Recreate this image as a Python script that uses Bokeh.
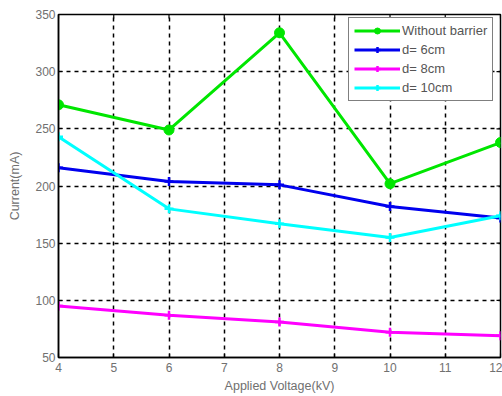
import math
from bokeh.plotting import figure
from bokeh.models import Range1d, FixedTicker, Legend, LegendItem
from bokeh.embed import file_html
from bokeh.resources import INLINE

voltage = [4, 6, 8, 10, 12]
without_barrier = [271, 249, 334, 202, 238]
d_6cm = [216, 204, 201, 182, 172]
d_8cm = [95, 87, 81, 72, 69]
d_10cm = [243, 180, 167, 155, 174]

x_ticks = [4, 5, 6, 7, 8, 9, 10, 11, 12]
y_ticks = [50, 100, 150, 200, 250, 300, 350]

FONT = "Liberation Sans"
TXT = "#707070"

p = figure(width=502, height=396, output_backend="svg", toolbar_location=None,
           x_range=Range1d(x_ticks[0], x_ticks[-1]), y_range=Range1d(y_ticks[0], y_ticks[-1]),
           min_border_left=58, min_border_right=2, min_border_top=14, min_border_bottom=39)

p.outline_line_color = "black"
p.outline_line_width = 1.5
p.outline_line_alpha = 1

def style_axis(ax, ticks):
    ax.ticker = FixedTicker(ticks=ticks)
    ax.axis_line_color = "black"
    ax.axis_line_width = 1.5
    ax.major_tick_in = 4
    ax.major_tick_out = 0
    ax.minor_tick_in = 0
    ax.minor_tick_out = 0
    ax.major_tick_line_color = "black"
    ax.major_tick_line_width = 1.2
    ax.major_label_text_font = FONT
    ax.major_label_text_font_size = "12px"
    ax.major_label_text_color = TXT
    ax.axis_label_text_font = FONT
    ax.axis_label_text_font_size = "12.5px"
    ax.axis_label_text_color = TXT
    ax.axis_label_text_font_style = "normal"

style_axis(p.xaxis[0], x_ticks)
style_axis(p.yaxis[0], y_ticks)
p.xaxis.axis_label = "Applied Voltage(kV)"
p.yaxis.axis_label = "Current(mA)"
p.xaxis.major_label_standoff = 5
p.yaxis.major_label_standoff = 3
p.xaxis.axis_label_standoff = 4
p.yaxis.axis_label_standoff = 10

for g in (p.xgrid[0], p.ygrid[0]):
    g.grid_line_color = "black"
    g.grid_line_dash = "4 4"
    g.grid_line_width = 1.5
    g.grid_line_alpha = 1

# inward tick marks on the top and right edges of the box (Matlab style)
p.scatter(x_ticks, [y_ticks[-1]] * len(x_ticks), marker="dash", angle=math.pi / 2,
          size=8, line_color="black", line_width=1.2)
p.scatter([x_ticks[-1]] * len(y_ticks), y_ticks, marker="dash",
          size=8, line_color="black", line_width=1.2)

lw = 3
r1 = p.line(voltage, without_barrier, line_color="#00e600", line_width=lw)
m1 = p.scatter(voltage, without_barrier, marker="circle", size=10, fill_color="#00e600",
               line_color="#00e600")
r2 = p.line(voltage, d_6cm, line_color="#0000ee", line_width=lw)
m2 = p.scatter(voltage, d_6cm, marker="cross", size=9, line_color="#0000ee", line_width=2.5)
r3 = p.line(voltage, d_8cm, line_color="#ff00ff", line_width=lw)
m3 = p.scatter(voltage, d_8cm, marker="cross", size=9, line_color="#ff00ff", line_width=2.5)
r4 = p.line(voltage, d_10cm, line_color="#00ffff", line_width=lw)
m4 = p.scatter(voltage, d_10cm, marker="cross", size=9, line_color="#00ffff", line_width=2.5)

legend = Legend(items=[
    LegendItem(label="Without barrier", renderers=[r1, m1]),
    LegendItem(label="d= 6cm", renderers=[r2, m2]),
    LegendItem(label="d= 8cm", renderers=[r3, m3]),
    LegendItem(label="d= 10cm", renderers=[r4, m4]),
], location=(290, 256))
legend.margin = 0
legend.padding = 5
legend.spacing = 4
legend.glyph_width = 46
legend.glyph_height = 15
legend.label_height = 15
legend.label_standoff = 2
legend.label_text_font = FONT
legend.label_text_font_size = "13px"
legend.label_text_color = "#555555"
legend.border_line_color = "black"
legend.border_line_width = 1.5
legend.background_fill_color = "white"
legend.background_fill_alpha = 1
p.add_layout(legend)

open("out.html", "w").write(file_html(p, INLINE))
